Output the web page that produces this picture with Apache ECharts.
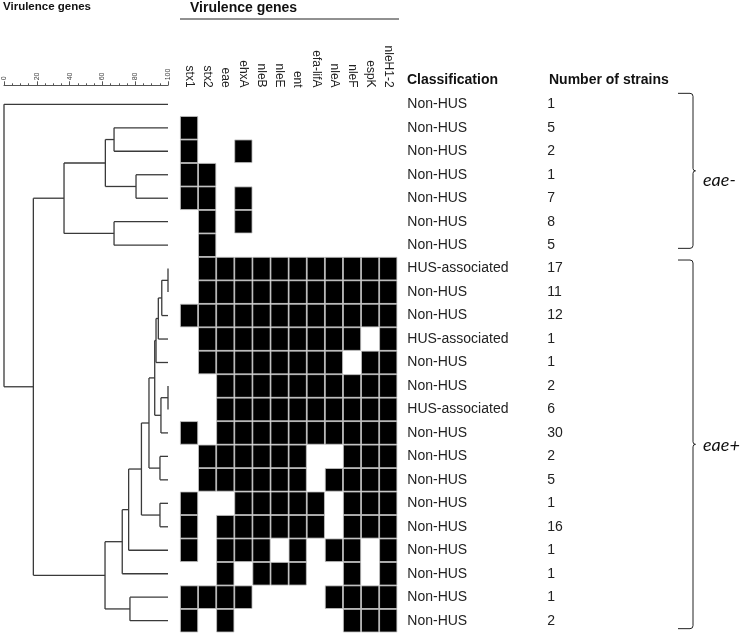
<!DOCTYPE html>
<html><head><meta charset="utf-8">
<script src="https://cdn.jsdelivr.net/npm/echarts@6/dist/echarts.min.js"></script>
<style>html,body{margin:0;padding:0;background:#fff}#c{width:742px;height:633px}</style>
</head><body><div id="c"></div>
<script>
// ---------------- data ----------------
const genes = ['stx1','stx2','eae','ehxA','nleB','nleE','ent','efa-lifA','nleA','nleF','espK','nleH1-2'];
const classification = ['Non-HUS','Non-HUS','Non-HUS','Non-HUS','Non-HUS','Non-HUS','Non-HUS',
  'HUS-associated','Non-HUS','Non-HUS','HUS-associated','Non-HUS','Non-HUS','HUS-associated',
  'Non-HUS','Non-HUS','Non-HUS','Non-HUS','Non-HUS','Non-HUS','Non-HUS','Non-HUS','Non-HUS'];
const strainCounts = [1,5,2,1,7,8,5,17,11,12,1,1,2,6,30,2,5,1,16,1,1,1,2];
// presence (1) / absence (0) of each gene, one string per profile row
const profiles = [
  '000000000000','100000000000','100100000000','110000000000','110100000000',
  '010100000000','010000000000','011111111111','011111111111','111111111111',
  '011111111101','011111111011','001111111111','001111111111','101111111111',
  '011111100111','011111101111','100111110111','101111110111','101110101101',
  '001011100101','111100001111','101000000111'];
// dendrogram linkage: leaves are 0..22, merge k creates node 23+k
const linkLeft   = [7, 23, 24, 25, 12, 27, 26, 15, 29, 17, 31, 33, 34, 21, 35, 1, 3, 38, 5, 40, 42, 0];
const linkRight  = [8,  9, 10, 11, 13, 14, 28, 16, 30, 18, 32, 19, 20, 22, 36, 2, 4, 39, 6, 41, 37, 43];
const linkHeight = [100, 96.2, 94.1, 92.7, 100, 95.7, 91.9, 95.1, 88.4, 95.1, 83.8, 76.0, 72.1, 76.8, 61.6, 67.1, 80.5, 61.8, 67.1, 36.6, 17.9, 0];
const eaeGroups = [{name:'eae-', from:0, to:6}, {name:'eae+', from:7, to:22}];

// ---------------- derived ----------------
const nLeaves = profiles.length;
const rowNames = profiles.map((_, i) => String(i));
const cells = [];
profiles.forEach((p, r) => { for (let c = 0; c < p.length; c++) if (p[c] === '1') cells.push([c, r]); });

const nodeX = [], nodeY = [];
for (let i = 0; i < nLeaves; i++) { nodeX.push(100); nodeY.push(i); }
const segs = [];
linkLeft.forEach((a, k) => {
  const b = linkRight[k], h = linkHeight[k];
  const y = (nodeY[a] + nodeY[b]) / 2;
  segs.push([h, nodeY[a], h, nodeY[b]]);
  segs.push([h, nodeY[a], nodeX[a], nodeY[a]]);
  segs.push([h, nodeY[b], nodeX[b], nodeY[b]]);
  nodeX.push(h); nodeY.push(y);
});

const FONT = "'Liberation Sans', Arial, sans-serif";
const TOP = 92.6, H = 539.8;
const chart = echarts.init(document.getElementById('c'), null, {renderer: 'canvas'});

chart.setOption({
  animation: false,
  backgroundColor: '#fff',
  textStyle: {fontFamily: FONT},
  grid: [
    {left: 4, top: TOP, width: 164, height: H},
    {left: 180, top: TOP, width: 217.3, height: H},
    {left: 4, top: 83.3, width: 164, height: 2}
  ],
  xAxis: [
    {gridIndex: 0, type: 'value', min: 0, max: 100, show: false},
    {gridIndex: 1, type: 'category', data: genes, position: 'top',
      axisLine: {show: false}, axisTick: {show: false},
      axisLabel: {rotate: 90, fontSize: 12, color: '#222', margin: 5, interval: 0, fontFamily: FONT}},
    {gridIndex: 2, type: 'value', min: 0, max: 100, interval: 20, position: 'top',
      axisLine: {show: true, lineStyle: {color: '#555', width: 1}},
      axisTick: {show: true, length: 4, lineStyle: {color: '#555'}},
      minorTick: {show: true, splitNumber: 4, length: 2, lineStyle: {color: '#555'}},
      splitLine: {show: false},
      axisLabel: {rotate: 90, fontSize: 7, color: '#444', margin: 3, fontFamily: FONT}}
  ],
  yAxis: [
    {gridIndex: 0, type: 'value', min: -0.5, max: 22.5, inverse: true, show: false},
    {gridIndex: 1, type: 'category', data: rowNames, inverse: true, show: false},
    {gridIndex: 1, type: 'category', data: rowNames, inverse: true, position: 'right',
      axisLine: {show: false}, axisTick: {show: false},
      axisLabel: {interval: 0, margin: 10, fontSize: 14, color: '#222', fontFamily: FONT,
        formatter: (v, i) => classification[i]}},
    {gridIndex: 1, type: 'category', data: rowNames, inverse: true, position: 'right', offset: 140,
      axisLine: {show: false}, axisTick: {show: false},
      axisLabel: {interval: 0, margin: 10, fontSize: 14, color: '#222', fontFamily: FONT,
        formatter: (v, i) => String(strainCounts[i])}},
    {gridIndex: 2, type: 'value', show: false}
  ],
  series: [
    {type: 'custom', xAxisIndex: 0, yAxisIndex: 0, clip: false, data: segs,
      encode: {x: [0, 2], y: [1, 3]},
      renderItem: (params, api) => {
        const p1 = api.coord([api.value(0), api.value(1)]);
        const p2 = api.coord([api.value(2), api.value(3)]);
        return {type: 'line', shape: {x1: p1[0], y1: p1[1], x2: p2[0], y2: p2[1]},
          style: {stroke: '#3a3a3a', lineWidth: 1.3}};
      }},
    {type: 'custom', xAxisIndex: 1, yAxisIndex: 1, data: cells,
      encode: {x: 0, y: 1},
      renderItem: (params, api) => {
        const c = api.coord([api.value(0), api.value(1)]);
        const s = api.size([1, 1]);
        return {type: 'rect', shape: {x: c[0] - s[0] / 2 + 0.4, y: c[1] - s[1] / 2 + 0.4, width: s[0] - 0.8, height: s[1] - 0.8},
          style: {fill: '#000', stroke: '#c4c4c4', lineWidth: 0.8}};
      }}
  ]
});

// annotations positioned from the axes
const rowY = r => chart.convertToPixel({yAxisIndex: 1}, String(r));
const txt = (x, y, text, font, extra) => ({type: 'text', x: x, y: y,
  style: Object.assign({text: text, font: font, fill: '#111', verticalAlign: 'middle', align: 'left'}, extra || {})});
const graphics = [
  txt(3, 6.5, 'Virulence genes', "bold 11.5px " + FONT),
  txt(190, 8, 'Virulence genes', "bold 14px " + FONT),
  {type: 'line', shape: {x1: 180, y1: 19, x2: 399, y2: 19}, style: {stroke: '#222', lineWidth: 1}},
  txt(407, 80, 'Classification', "bold 14px " + FONT),
  txt(549, 80, 'Number of strains', "bold 14px " + FONT)
];
const LS = {stroke: '#222', lineWidth: 1, fill: null};
eaeGroups.forEach((g, gi) => {
  const yTop = rowY(g.from) - (gi === 0 ? 11 : 8.6);
  const yBot = rowY(g.to) + (gi === 0 ? 3.2 : 8);
  const x0 = 678, x1 = 693, mid = (yTop + yBot) / 2, r = 3;
  graphics.push({type: 'polyline', shape: {points: [[x0, yTop], [x1 - r, yTop]]}, style: LS});
  graphics.push({type: 'bezierCurve', shape: {x1: x1 - r, y1: yTop, cpx1: x1, cpy1: yTop, x2: x1, y2: yTop + r}, style: LS});
  graphics.push({type: 'polyline', shape: {points: [[x1, yTop + r], [x1, mid - 2.5]]}, style: LS});
  graphics.push({type: 'bezierCurve', shape: {x1: x1, y1: mid - 2.5, cpx1: x1, cpy1: mid, x2: x1 + 2.5, y2: mid}, style: LS});
  graphics.push({type: 'bezierCurve', shape: {x1: x1 + 2.5, y1: mid, cpx1: x1, cpy1: mid, x2: x1, y2: mid + 2.5}, style: LS});
  graphics.push({type: 'polyline', shape: {points: [[x1, mid + 2.5], [x1, yBot - r]]}, style: LS});
  graphics.push({type: 'bezierCurve', shape: {x1: x1, y1: yBot - r, cpx1: x1, cpy1: yBot, x2: x1 - r, y2: yBot}, style: LS});
  graphics.push({type: 'polyline', shape: {points: [[x1 - r, yBot], [x0, yBot]]}, style: LS});
  graphics.push(txt(703, gi === 0 ? mid + 9 : mid + 1, g.name, "italic 18px Lato, 'Open Sans', sans-serif"));
});
chart.setOption({graphic: graphics});
</script></body></html>
